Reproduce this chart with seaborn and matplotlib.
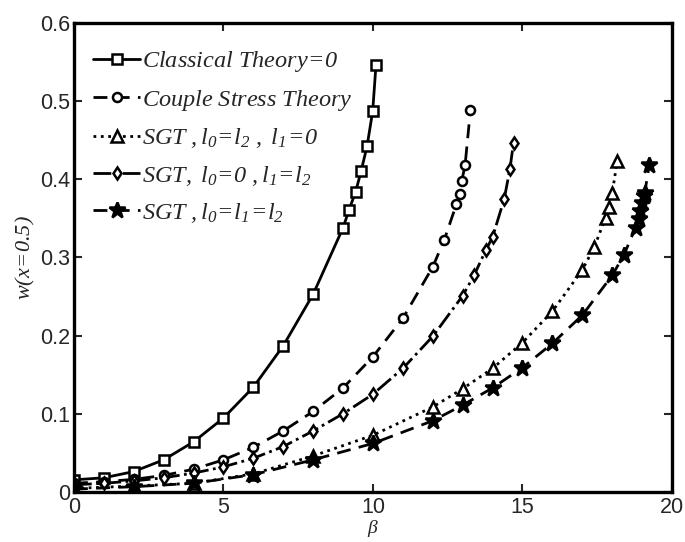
import numpy as np
import pandas as pd
import seaborn as sns
import matplotlib
matplotlib.use("Agg")
import matplotlib.pyplot as plt

# ---- data ----
beta_classical = [0, 1, 2, 3, 4, 5, 6, 7, 8, 9, 9.2, 9.42, 9.6, 9.8, 9.99, 10.1]
w_classical = [0.0154, 0.018, 0.026, 0.041, 0.064, 0.0945, 0.134, 0.187, 0.253,
               0.338, 0.361, 0.384, 0.410, 0.442, 0.487, 0.546]

beta_couple = [0, 1, 2, 3, 4, 5, 6, 7, 8, 9, 10, 11, 12, 12.38, 12.79, 12.9, 12.97, 13.08, 13.26]
w_couple = [0.011, 0.013, 0.016, 0.021, 0.029, 0.041, 0.057, 0.078, 0.103, 0.133,
            0.173, 0.222, 0.288, 0.322, 0.368, 0.381, 0.398, 0.418, 0.489]

beta_sgt1 = [0, 2, 4, 6, 8, 10, 12, 13, 14, 15, 16, 17, 17.4, 17.78, 17.88, 18.0, 18.17]
w_sgt1 = [0.0044, 0.0075, 0.011, 0.023, 0.046, 0.0725, 0.1086, 0.132, 0.158, 0.191,
          0.231, 0.284, 0.313, 0.351, 0.365, 0.382, 0.424]

beta_sgt2 = [0, 1, 2, 3, 4, 5, 6, 7, 8, 9, 10, 11, 12, 13, 13.38, 13.77, 14.0, 14.39, 14.58, 14.7]
w_sgt2 = [0.009, 0.011, 0.014, 0.018, 0.024, 0.032, 0.043, 0.058, 0.078, 0.100,
          0.125, 0.158, 0.199, 0.251, 0.277, 0.309, 0.326, 0.375, 0.413, 0.447]

beta_sgt3 = [0, 2, 4, 6, 8, 10, 12, 13, 14, 15, 16, 17, 18, 18.39, 18.78, 18.9, 18.92,
             19.0, 19.05, 19.09, 19.24]
w_sgt3 = [0.0035, 0.0066, 0.011, 0.022, 0.041, 0.062, 0.091, 0.111, 0.133, 0.159,
          0.190, 0.226, 0.277, 0.303, 0.338, 0.349, 0.359, 0.370, 0.378, 0.383, 0.418]

labels = [
    r"$Classical\ Theory\!=\!0$",
    r"$Couple\ Stress\ Theory$",
    r"$SGT\ ,l_0\!=\!l_2\ ,\ l_1\!=\!0$",
    r"$SGT,\ l_0\!=\!0\ ,l_1\!=\!l_2$",
    r"$SGT\ ,l_0\!=\!l_1\!=\!l_2$",
]
x_ticks = [0, 5, 10, 15, 20]
y_ticks = [0, 0.1, 0.2, 0.3, 0.4, 0.5, 0.6]

sns.set_style("ticks")
plt.rcParams["font.family"] = ["Liberation Sans", "DejaVu Sans"]
plt.rcParams["mathtext.fontset"] = "custom"
plt.rcParams["mathtext.rm"] = "Liberation Serif:italic"
plt.rcParams["mathtext.it"] = "Liberation Serif:italic"
plt.rcParams["mathtext.bf"] = "Liberation Serif:italic"

fig = plt.figure(figsize=(6.85, 5.42), dpi=100)
ax = fig.add_axes([0.108, 0.0925, 0.873, 0.8651])

series = [
    (beta_classical, w_classical, "s", "-", 6.5, "white"),
    (beta_couple, w_couple, "o", (0, (5, 3)), 6.5, "white"),
    (beta_sgt1, w_sgt1, "^", ":", 8.5, "white"),
    (beta_sgt2, w_sgt2, "d", "-.", 6.5, "white"),
    (beta_sgt3, w_sgt3, "*", (0, (5, 3)), 12, "black"),
]
for (bx, wy, mk, ls, ms, mfc), lab in zip(series, labels):
    df = pd.DataFrame({"beta": bx, "w": wy})
    sns.lineplot(data=df, x="beta", y="w", ax=ax, sort=False, estimator=None,
                 color="black", linestyle=ls, linewidth=2.0, marker=mk,
                 markersize=ms, markerfacecolor=mfc, markeredgecolor="black",
                 markeredgewidth=1.8, label=lab)

ax.set_xlim(0, 20)
ax.set_ylim(0, 0.6)
ax.set_xticks(x_ticks)
ax.set_yticks(y_ticks)
ax.set_xticklabels([f"{t:g}" for t in x_ticks])
ax.set_yticklabels([f"{t:g}" for t in y_ticks])
ax.tick_params(direction="in", length=6, width=1.5, labelsize=15.5,
               top=True, right=True)
ax.tick_params(axis="x", pad=4)
ax.tick_params(axis="y", pad=3)
for sp in ax.spines.values():
    sp.set_visible(True)
    sp.set_linewidth(2.4)
    sp.set_color("black")

ax.set_xlabel(r"$\beta$", fontsize=14, labelpad=-0.5)
ax.set_ylabel(r"$w(x\!=\!0.5)$", fontsize=16, labelpad=2)

leg = ax.legend(loc="upper left", bbox_to_anchor=(0.0, 0.985), frameon=False,
                fontsize=17.5, handlelength=1.9, handletextpad=0.1,
                labelspacing=0.55, borderaxespad=0.4)

fig.savefig("out.png", dpi=100)
